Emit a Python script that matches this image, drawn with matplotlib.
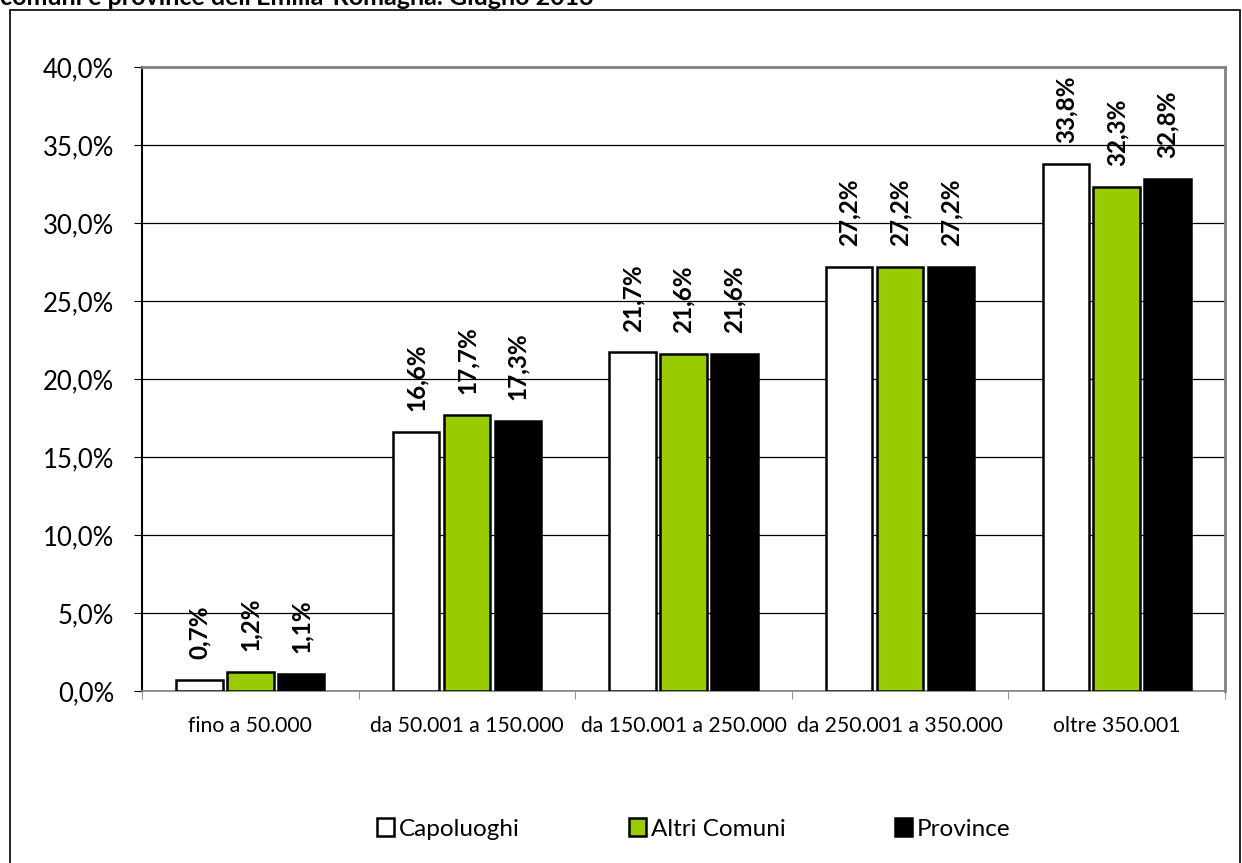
from matplotlib import pyplot as plt
from matplotlib.patches import Rectangle
from matplotlib.ticker import FuncFormatter, FixedLocator
import numpy as np

categories = ['fino a 50.000', 'da 50.001 a 150.000', 'da 150.001 a 250.000',
              'da 250.001 a 350.000', 'oltre 350.001']
capoluoghi = [0.7, 16.6, 21.7, 27.2, 33.8]
altri_comuni = [1.2, 17.7, 21.6, 27.2, 32.3]
province = [1.1, 17.3, 21.6, 27.2, 32.8]
series_names = ['Capoluoghi', 'Altri Comuni', 'Province']
colors = ['white', '#99CC00', 'black']

plt.rcParams['font.family'] = ['Lato', 'DejaVu Sans']

fig = plt.figure(figsize=(12.42, 8.63), dpi=100)
ax = fig.add_axes([142 / 1242, 1 - 691 / 863, (1225 - 142) / 1242, (691 - 67) / 863])

fig.text(0.0, 1 - 5 / 863, "comuni e province dell'Emilia-Romagna. Giugno 2013",
         fontsize=18, fontweight='bold', va='baseline', ha='left')
fig.patches.append(Rectangle((10 / 1242, -0.05), 1230 / 1242, 1.05 - 10 / 863,
                             transform=fig.transFigure, fill=False,
                             edgecolor='black', lw=1.2))

x = np.arange(len(categories))
width = 0.215
offsets = [-0.235, 0, 0.235]
for data, name, col, off in zip([capoluoghi, altri_comuni, province],
                                series_names, colors, offsets):
    bars = ax.bar(x + off, data, width, color=col, edgecolor='black',
                  lw=1.8, label=name, zorder=3)
    for b, v in zip(bars, data):
        ax.annotate(f'{v:.1f}%'.replace('.', ','),
                    (b.get_x() + b.get_width() / 2, v),
                    xytext=(0, 15), textcoords='offset points',
                    rotation=90, ha='center', va='bottom',
                    fontsize=17.5, fontweight='bold')

ax.set_ylim(0, 40)
ax.set_xlim(-0.5, len(categories) - 0.5)
ax.set_yticks(np.arange(0, 41, 5))
ax.yaxis.set_major_formatter(FuncFormatter(lambda v, p: f'{v:.1f}%'.replace('.', ',')))
ax.tick_params(axis='y', labelsize=18.5, length=6, direction='out', pad=14)
ax.yaxis.grid(True, color='black', lw=0.9)
ax.set_axisbelow(True)

ax.set_xticks(x)
ax.set_xticklabels(categories, fontsize=15.2)
ax.tick_params(axis='x', which='major', length=0, pad=18)
ax.xaxis.set_minor_locator(FixedLocator(np.arange(-0.5, len(categories), 1)))
ax.tick_params(axis='x', which='minor', length=6, color='gray')

ax.spines['top'].set_color('#808080')
ax.spines['right'].set_color('#808080')
ax.spines['top'].set_linewidth(2)
ax.spines['right'].set_linewidth(2)
ax.spines['left'].set_linewidth(1.5)
ax.spines['bottom'].set_color('#808080')
ax.spines['bottom'].set_linewidth(1.2)

fig.legend(loc='center', bbox_to_anchor=(694 / 1242, 1 - 829 / 863), ncol=3,
           frameon=False, fontsize=17.5, handlelength=0.7, handleheight=0.7,
           handletextpad=0.2, columnspacing=4.5)

fig.savefig('out.png', dpi=100)
